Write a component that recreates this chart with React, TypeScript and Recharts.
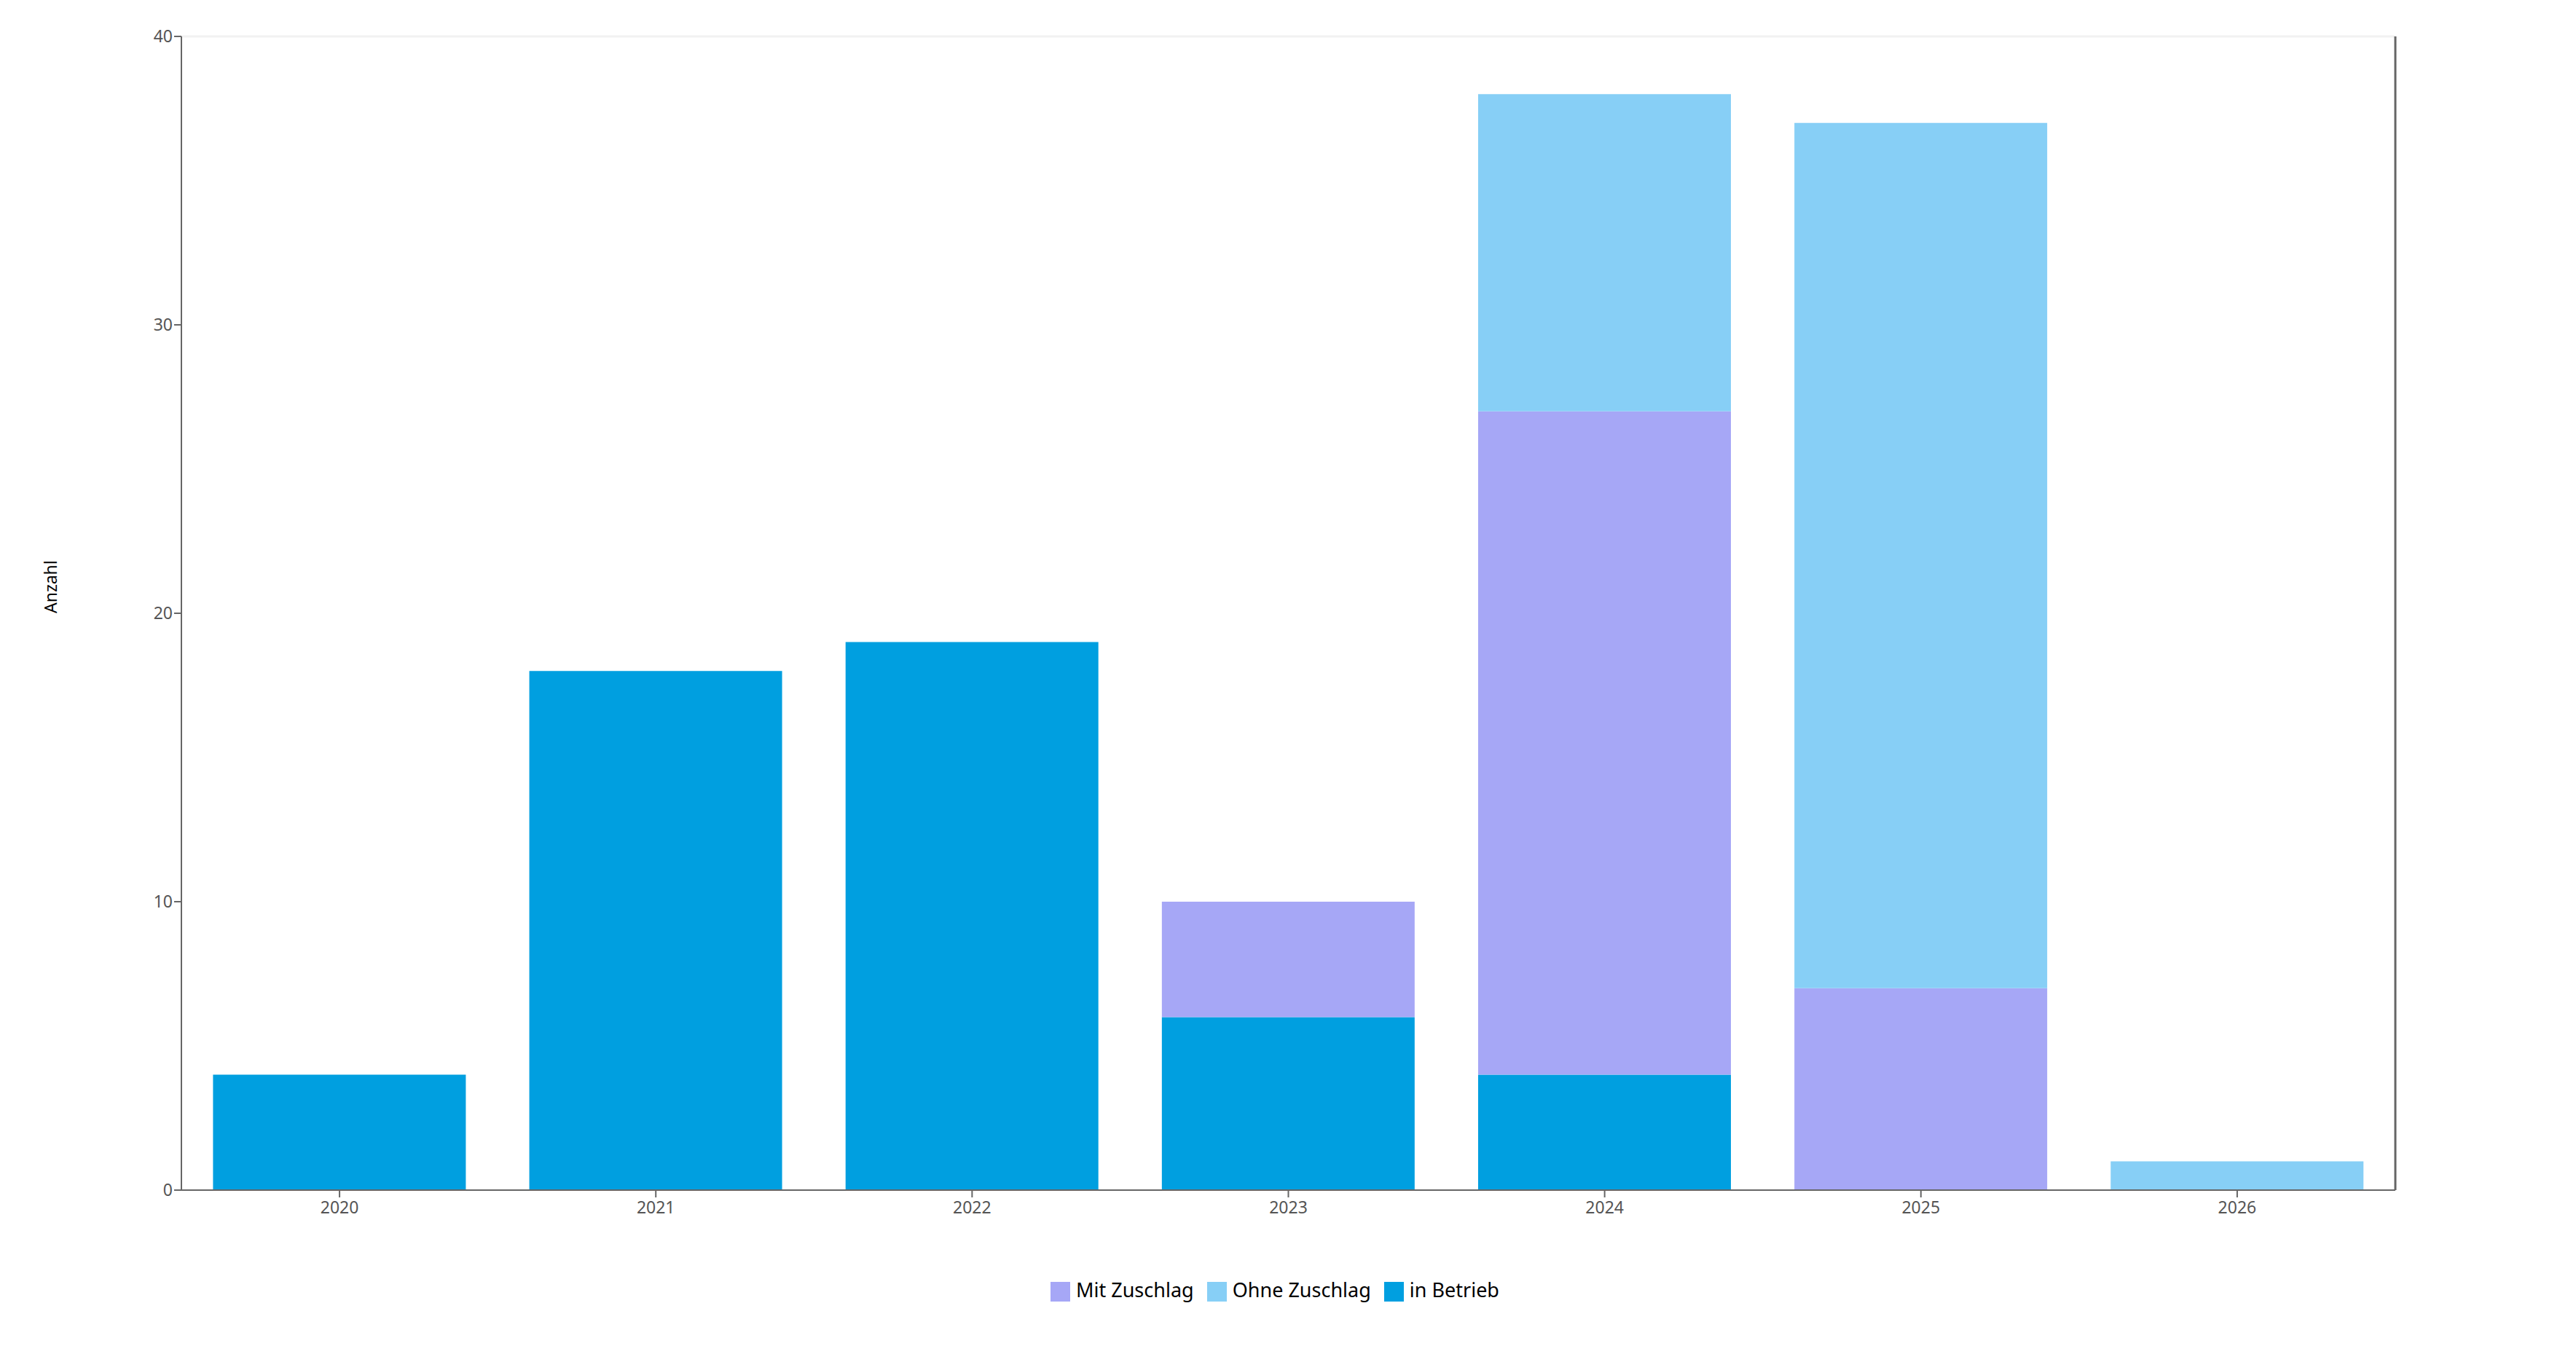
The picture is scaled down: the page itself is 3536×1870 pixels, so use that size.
import { Bar, BarChart, XAxis, YAxis, Legend, ReferenceLine } from 'recharts'

const years = ['2020', '2021', '2022', '2023', '2024', '2025', '2026']
const inBetrieb = [4, 18, 19, 6, 4, 0, 0]
const mitZuschlag = [0, 0, 0, 4, 23, 7, 0]
const ohneZuschlag = [0, 0, 0, 0, 11, 30, 1]
const yTicks = [0, 10, 20, 30, 40]

const data = years.map((year, i) => ({
  year,
  inBetrieb: inBetrieb[i],
  mitZuschlag: mitZuschlag[i],
  ohneZuschlag: ohneZuschlag[i],
}))

const font = '"Noto Sans", "Open Sans", sans-serif'

const App: React.FC = () => {
  return (
    <div style={{ fontFamily: font }}>
      <BarChart
        width={3520}
        height={1854}
        data={data}
        margin={{ top: 42, right: 18, left: 0, bottom: 73 }}
      >
        <ReferenceLine yAxisId='left' y={40} stroke='#f2f2f2' strokeWidth={3} />
        <XAxis
          dataKey='year'
          height={118}
          stroke='#666666'
          strokeWidth={2}
          tickSize={10}
          tickMargin={6}
          tick={{ fontSize: 23, fill: '#555555', fontFamily: font }}
        />
        <YAxis
          yAxisId='left'
          width={241}
          domain={[0, 40]}
          ticks={yTicks}
          stroke='#666666'
          strokeWidth={2}
          tickSize={10}
          tick={{ fontSize: 23, fill: '#555555', fontFamily: font }}
          label={{
            value: 'Anzahl',
            angle: -90,
            position: 'insideLeft',
            offset: 62,
            fontSize: 23,
            fill: '#000000',
            fontFamily: font,
          }}
        />
        <YAxis
          yAxisId='right'
          orientation='right'
          width={222}
          domain={[0, 40]}
          tick={false}
          tickLine={false}
          stroke='#666666'
          strokeWidth={3}
        />
        <Legend
          verticalAlign='bottom'
          iconType='square'
          iconSize={27}
          wrapperStyle={{ fontSize: 27, color: '#000000', fontFamily: font }}
          formatter={(value) => (
            <span style={{ color: '#000000', marginLeft: 4, marginRight: 8 }}>{value}</span>
          )}
        />
        <Bar yAxisId='left' dataKey='inBetrieb' name='in Betrieb' stackId='a' fill='#009fe0' isAnimationActive={false} />
        <Bar yAxisId='left' dataKey='mitZuschlag' name='Mit Zuschlag' stackId='a' fill='#a6a7f6' isAnimationActive={false} />
        <Bar yAxisId='left' dataKey='ohneZuschlag' name='Ohne Zuschlag' stackId='a' fill='#87cff6' isAnimationActive={false} />
      </BarChart>
    </div>
  )
}

export default App
